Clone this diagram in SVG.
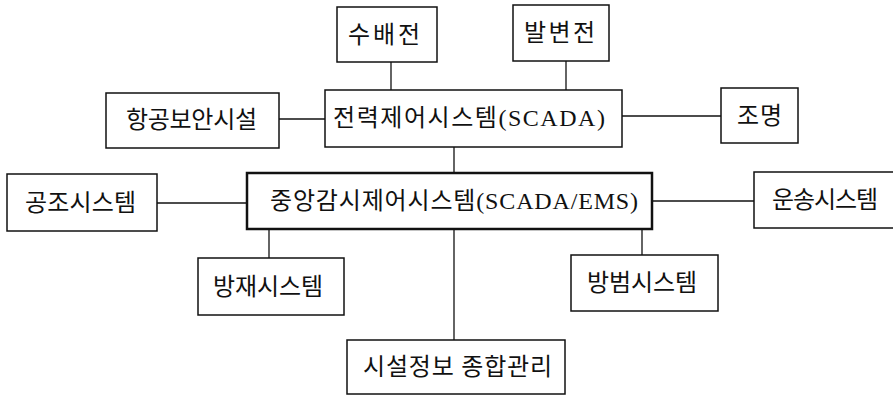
<svg xmlns="http://www.w3.org/2000/svg" width="893" height="396" viewBox="0 0 893 396">
<style>
rect{fill:#fff;stroke:#111;stroke-width:1.5}
rect.main{stroke-width:2.5}
text{font-family:"Liberation Serif","Noto Sans CJK KR",serif;font-size:24px;fill:#111;text-anchor:middle;dominant-baseline:central}
#connectors line{stroke:#111;stroke-width:1.3}
</style>
<rect x="0" y="0" width="893" height="396" style="fill:#fff;stroke:none"/>
<g id="connectors">
<line x1="391" y1="62" x2="391" y2="90"/>
<line x1="566" y1="61" x2="566" y2="90"/>
<line x1="279" y1="119" x2="325" y2="119"/>
<line x1="622" y1="116" x2="721" y2="116"/>
<line x1="454" y1="147" x2="454" y2="173"/>
<line x1="157" y1="203" x2="247" y2="203"/>
<line x1="652" y1="201" x2="754" y2="201"/>
<line x1="269" y1="229" x2="269" y2="258"/>
<line x1="642" y1="229" x2="642" y2="255"/>
<line x1="454" y1="229" x2="454" y2="340"/>
</g>
<g id="n-subaejeon"><rect x="337" y="7" width="100" height="55"/><text x="384" y="35" textLength="72" lengthAdjust="spacing">수배전</text></g>
<g id="n-balbyeonjeon"><rect x="513" y="5" width="96" height="56"/><text x="559.5" y="33" textLength="71" lengthAdjust="spacing">발변전</text></g>
<g id="n-hanggong"><rect x="106" y="93" width="173" height="55"/><text x="191.5" y="120" textLength="131" lengthAdjust="spacing">항공보안시설</text></g>
<g id="n-scada"><rect x="325" y="90" width="297" height="57"/><text x="469" y="118" textLength="272" lengthAdjust="spacing">전력제어시스템(SCADA)</text></g>
<g id="n-jomyeong"><rect x="721" y="88" width="77" height="55"/><text x="759.5" y="116" textLength="45" lengthAdjust="spacing">조명</text></g>
<g id="n-main"><rect class="main" x="247" y="173" width="405" height="56"/><text x="454" y="201" textLength="368" lengthAdjust="spacing">중앙감시제어시스템(SCADA/EMS)</text></g>
<g id="n-gongjo"><rect x="7" y="174" width="150" height="57"/><text x="80.5" y="203" textLength="111" lengthAdjust="spacing">공조시스템</text></g>
<g id="n-unsong"><rect x="754" y="172" width="150" height="56"/><text x="825" y="200" textLength="106" lengthAdjust="spacing">운송시스템</text></g>
<g id="n-bangjae"><rect x="198" y="258" width="146" height="57"/><text x="268" y="287" textLength="110" lengthAdjust="spacing">방재시스템</text></g>
<g id="n-bangbeom"><rect x="571" y="255" width="147" height="56"/><text x="642" y="283" textLength="110" lengthAdjust="spacing">방범시스템</text></g>
<g id="n-siseol"><rect x="347" y="340" width="218" height="54"/><text x="457.5" y="367" textLength="189" lengthAdjust="spacing">시설정보 종합관리</text></g>
</svg>
